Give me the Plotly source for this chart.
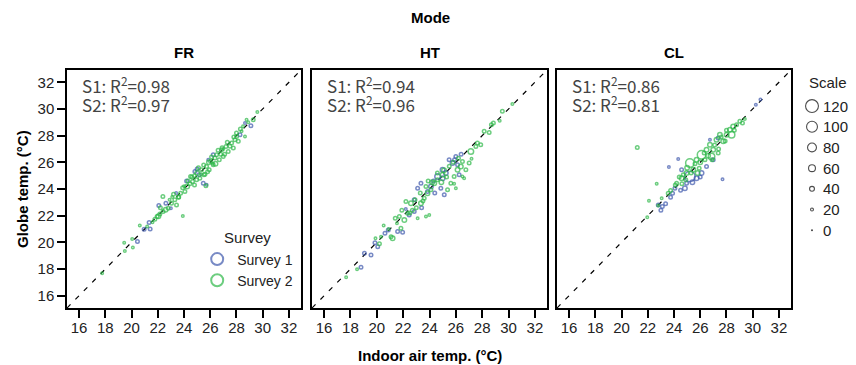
import plotly.graph_objects as go

# ---------------- data ----------------
PANELS = ["FR", "HT", "CL"]
R2_S1 = [0.98, 0.94, 0.86]
R2_S2 = [0.97, 0.96, 0.81]
TICKS = [16, 18, 20, 22, 24, 26, 28, 30, 32]
AXIS_RANGE = [15.08, 32.92]
REF_LINE = [15.08, 32.92]
SCALE_LEVELS = [120, 100, 80, 60, 40, 20, 0]
SURVEYS = ["Survey 1", "Survey 2"]

FR_S1_X = [20.45, 20.96, 21.34, 21.42, 22.08, 22.62, 23.0, 24.83, 25.16, 25.47, 25.85, 25.72, 26.23, 28.27, 29.10, 28.65, 24.2, 25.0, 23.4]
FR_S1_Y = [20.06, 20.98, 21.48, 21.01, 22.76, 22.94, 22.56, 25.31, 25.06, 24.44, 26.19, 24.31, 26.57, 28.07, 28.74, 28.94, 24.6, 25.5, 23.7]
FR_S1_SCALE = [30, 30, 30, 30, 30, 30, 20, 30, 30, 30, 20, 20, 30, 30, 30, 20, 30, 30, 20]

FR_S2_X = [17.76, 19.49, 19.44, 20.10, 20.05, 20.63, 21.19, 21.78, 21.95, 22.16, 22.41, 22.05, 22.39, 22.60, 22.79,
           23.05, 23.30, 23.43, 23.58, 23.91, 23.74, 24.07, 24.24, 24.45, 24.65, 24.50, 24.96, 25.01, 25.21, 25.34,
           25.52, 25.67, 25.72, 25.92, 26.03, 26.23, 26.36, 26.48, 26.69, 26.87, 26.99, 27.20, 27.37, 27.63, 27.76,
           27.88, 28.01, 28.14, 28.39, 28.65, 28.77, 29.28, 29.59,
           24.3, 24.8, 25.1, 25.5, 25.9, 26.1, 26.6, 26.9, 27.3, 27.5, 28.0, 28.3, 26.4, 25.8, 27.1, 24.8, 23.9, 23.2,
           21.6, 22.9, 23.6, 24.0, 24.6, 25.3, 25.6, 26.2, 26.8, 27.0, 27.8, 28.5, 28.9, 22.2, 23.1]
FR_S2_Y = [17.68, 19.35, 19.98, 19.61, 20.26, 21.26, 21.18, 21.73, 21.93, 22.13, 22.31, 21.95, 23.44, 22.45, 22.56,
           22.94, 23.19, 22.81, 23.39, 21.98, 23.69, 23.81, 24.19, 24.39, 24.56, 24.94, 24.69, 25.19, 24.81, 25.44,
           25.06, 24.24, 25.69, 25.44, 26.06, 25.81, 26.32, 26.57, 26.19, 26.94, 26.44, 27.19, 26.82, 27.44, 27.07,
           27.69, 27.94, 27.57, 28.32, 27.94, 29.19, 29.19, 29.77,
           24.6, 25.0, 25.6, 25.8, 26.0, 26.4, 26.9, 27.1, 27.5, 27.2, 28.2, 28.5, 25.9, 25.3, 26.6, 24.3, 24.1, 23.6,
           21.5, 23.2, 23.4, 24.2, 24.9, 25.1, 25.1, 25.9, 26.6, 27.0, 27.9, 28.7, 29.0, 22.6, 23.4]
FR_S2_SCALE = [20, 20, 20, 20, 20, 20, 20, 30, 30, 30, 30, 40, 30, 40, 30,
               30, 30, 30, 30, 20, 30, 30, 40, 30, 30, 30, 30, 40, 30, 30,
               30, 30, 30, 30, 30, 30, 30, 30, 30, 30, 30, 30, 30, 30, 30,
               30, 30, 30, 20, 20, 20, 30, 20,
               30, 30, 30, 30, 40, 30, 30, 30, 30, 30, 30, 30, 40, 30, 30, 30, 30, 30,
               20, 20, 30, 20, 30, 20, 30, 20, 30, 20, 30, 20, 20, 30, 20]

HT_S1_X = [18.80, 19.06, 19.56, 19.86, 20.07, 20.62, 20.87, 21.58, 21.96, 22.46, 22.84, 22.84, 23.10, 23.35, 24.11,
           24.61, 24.99, 25.24, 25.12, 25.49, 25.75, 26.00, 26.13, 26.25, 24.86, 23.85, 23.4, 24.4,
           24.3, 25.0, 25.9, 26.4, 22.2]
HT_S1_Y = [18.13, 19.18, 19.05, 19.98, 19.68, 20.68, 20.93, 20.81, 20.76, 22.06, 23.19, 22.31, 24.06, 24.44, 24.19,
           24.94, 25.44, 25.19, 23.56, 26.19, 25.94, 26.44, 25.81, 25.06, 24.06, 23.81, 22.6, 23.7,
           24.6, 24.8, 26.2, 26.6, 22.5]
HT_S1_SCALE = [30, 30, 30, 30, 30, 30, 30, 30, 30, 30, 30, 30, 30, 30, 40,
               50, 40, 40, 30, 30, 40, 30, 30, 30, 30, 30, 30, 30,
               30, 40, 30, 30, 20]

HT_S2_X = [17.67, 18.50, 20.32, 20.52, 21.08, 21.20, 21.53, 21.83, 21.71, 22.09, 22.34, 22.59, 22.21, 23.10, 23.35,
           23.73, 23.98, 23.60, 23.85, 24.11, 23.73, 24.36, 24.61, 24.99, 25.37, 25.62, 25.87, 26.00, 25.87, 26.13,
           26.38, 26.50, 26.63, 26.50, 26.76, 27.01, 27.14, 27.52, 27.89, 27.19, 27.64, 28.15, 28.53, 28.70, 28.85,
           29.33, 29.53, 30.29,
           22.9, 23.3, 24.6, 25.1, 25.5, 25.8, 24.2, 23.0, 22.5, 21.4, 20.9, 20.2, 19.9,
           22.7, 23.9, 24.9, 25.3, 26.2, 23.5, 21.9]
HT_S2_Y = [17.38, 17.98, 20.43, 21.26, 20.43, 20.31, 21.43, 21.06, 21.93, 21.68, 22.18, 22.94, 23.06, 21.81, 22.94,
           21.93, 22.06, 23.31, 23.69, 23.94, 24.19, 24.44, 24.69, 25.06, 23.94, 24.44, 24.94, 24.06, 24.39, 25.44,
           25.69, 24.94, 24.81, 26.06, 25.44, 25.94, 26.82, 27.19, 27.32, 26.27, 27.44, 28.32, 28.24, 28.82, 28.94,
           29.12, 29.82, 30.37,
           23.2, 23.7, 25.2, 25.4, 25.7, 26.0, 24.5, 22.6, 22.2, 21.8, 21.0, 19.9, 20.3,
           22.4, 24.6, 24.5, 24.9, 26.3, 23.1, 22.4]
HT_S2_SCALE = [20, 20, 20, 20, 30, 40, 20, 30, 30, 40, 30, 40, 30, 20, 40,
               20, 20, 30, 40, 30, 30, 40, 30, 40, 30, 30, 30, 20, 20, 40,
               40, 20, 20, 30, 30, 30, 50, 30, 30, 20, 30, 30, 30, 30, 30,
               20, 30, 20,
               30, 30, 30, 40, 30, 30, 40, 30, 30, 30, 20, 30, 20,
               30, 30, 40, 30, 30, 30, 30]

CL_S1_X = [23.61, 24.32, 27.70, 22.80, 23.11, 23.36, 23.74, 23.89, 24.07, 24.83, 24.96, 25.21, 25.72, 26.10, 26.48,
           26.74, 27.37, 26.99, 30.24, 30.59, 24.58, 24.5, 25.4, 26.0, 23.0]
CL_S1_Y = [25.64, 26.24, 24.74, 22.81, 22.69, 22.89, 23.39, 23.69, 24.06, 24.06, 24.44, 24.94, 24.81, 25.19, 25.69,
           27.69, 27.82, 26.19, 30.32, 30.70, 25.44, 23.9, 24.5, 24.9, 22.4]
CL_S1_SCALE = [20, 20, 20, 30, 30, 30, 30, 30, 30, 40, 30, 100, 40, 40, 30,
               20, 30, 30, 20, 20, 30, 30, 40, 30, 30]

CL_S2_X = [21.20, 22.68, 22.09, 21.96, 23.06, 22.80, 23.56, 23.74, 24.20, 24.58, 24.71, 24.96, 25.21, 25.47, 25.72,
           25.92, 26.10, 26.36, 26.48, 26.74, 26.86, 26.99, 27.24, 27.37, 27.50, 27.75, 28.01, 28.26, 28.39, 28.51,
           28.77, 29.02, 29.22, 29.40,
           24.4, 25.0, 25.6, 26.0, 26.3, 26.6, 27.1, 27.6, 28.0, 25.3, 24.6, 27.9,
           24.1, 24.9, 25.8, 26.9, 27.4, 28.6]
CL_S2_Y = [27.12, 24.39, 23.11, 21.88, 23.31, 22.76, 23.69, 23.89, 24.44, 24.81, 25.06, 25.19, 25.94, 25.44, 26.19,
           25.56, 26.57, 26.19, 26.94, 27.32, 26.44, 26.94, 27.69, 26.69, 28.07, 27.57, 28.07, 28.44, 28.07, 28.69,
           28.82, 29.07, 28.94, 29.24,
           24.9, 25.6, 25.9, 26.0, 26.7, 26.5, 27.3, 27.9, 28.4, 25.2, 24.4, 27.6,
           24.3, 24.7, 25.2, 26.2, 27.0, 28.4]
CL_S2_SCALE = [30, 20, 20, 20, 20, 20, 30, 30, 30, 40, 30, 40, 80, 40, 40,
               30, 80, 30, 40, 40, 60, 40, 40, 30, 40, 40, 40, 40, 60, 40,
               30, 30, 30, 20,
               30, 40, 30, 40, 30, 40, 30, 30, 30, 30, 30, 30,
               30, 30, 40, 30, 30, 30]

DATA = {
    "FR": [(FR_S1_X, FR_S1_Y, FR_S1_SCALE), (FR_S2_X, FR_S2_Y, FR_S2_SCALE)],
    "HT": [(HT_S1_X, HT_S1_Y, HT_S1_SCALE), (HT_S2_X, HT_S2_Y, HT_S2_SCALE)],
    "CL": [(CL_S1_X, CL_S1_Y, CL_S1_SCALE), (CL_S2_X, CL_S2_Y, CL_S2_SCALE)],
}

# ---------------- style ----------------
COLORS = ["#3E58AC", "#2EB848"]
NARROW = "Liberation Sans Narrow, Arial Narrow, Liberation Sans, Arial, sans-serif"
REG = "Liberation Sans, Arial, sans-serif"
R2FONT = "Noto Sans CJK JP, Noto Sans, sans-serif"
W = 789.0  # plot-area width in px (margin l=67, r=0)
DOMAINS = [[0.0, 234 / W], [245 / W, 480 / W], [490 / W, 724 / W]]
KEY_DOMAIN = [733 / W, 1.0]
MARKER_LW = 1.5


def msize(s, lw):
    # outer ring diameter grows 2px per 20 scale units
    return max(2 + s / 10.0 - lw, 1.0)


fig = go.Figure()

for i, panel in enumerate(PANELS):
    ax = "" if i == 0 else str(i + 1)
    fig.add_trace(go.Scatter(
        x=REF_LINE, y=REF_LINE, mode="lines", xaxis="x" + ax, yaxis="y" + ax,
        line=dict(color="black", width=1.2, dash="5px,7px"), showlegend=False, hoverinfo="skip"))
    for k, (xs, ys, ss) in enumerate(DATA[panel]):
        fig.add_trace(go.Scatter(
            x=xs, y=ys, mode="markers", xaxis="x" + ax, yaxis="y" + ax,
            name=SURVEYS[k], showlegend=(i == 0),
            marker=dict(symbol="circle-open", color=COLORS[k], size=[msize(s, MARKER_LW) for s in ss],
                        line=dict(width=MARKER_LW, color=COLORS[k]))))

# size key ("Scale") drawn on a hidden axis in the right margin
key_idx = list(range(len(SCALE_LEVELS)))
fig.add_trace(go.Scatter(
    x=[12] * len(SCALE_LEVELS), y=key_idx, mode="markers", xaxis="x4", yaxis="y4", showlegend=False,
    hoverinfo="skip",
    marker=dict(symbol="circle-open", color="black", size=[msize(v, 1.1) for v in SCALE_LEVELS],
                line=dict(width=1.1, color="black"))))

axis_common = dict(range=AXIS_RANGE, showline=True, linecolor="black", linewidth=1.5, mirror=True,
                   showgrid=False, zeroline=False)
layout = dict(
    template="none",
    width=856, height=365,
    margin=dict(l=67, r=0, t=70, b=57, autoexpand=False),
    paper_bgcolor="white", plot_bgcolor="white",
    font=dict(family=REG, color="#222222", size=14),
    showlegend=True,
    legend=dict(title=dict(text="Survey", side="top center", font=dict(size=15, family=REG)),
                x=0.165, y=0.353, xanchor="left", yanchor="top", bgcolor="rgba(0,0,0,0)",
                font=dict(size=14, family=REG), itemsizing="constant", tracegroupgap=0),
    xaxis4=dict(domain=KEY_DOMAIN, range=[0, 56], visible=False, anchor="y4"),
    yaxis4=dict(domain=[0, 1], range=[9.759, -1.742], visible=False, anchor="x4"),
)
for i in range(3):
    ax = "" if i == 0 else str(i + 1)
    layout["xaxis" + ax] = dict(axis_common, domain=DOMAINS[i], anchor="y" + ax,
                                tickvals=TICKS, ticks="outside", ticklen=8, tickwidth=1.5, tickcolor="black",
                                ticklabelstandoff=-3,
                                tickfont=dict(family=NARROW, size=15, color="#222222"))
    ydict = dict(axis_common, domain=[0, 1], anchor="x" + ax)
    if i == 0:
        ydict.update(tickvals=TICKS, ticks="outside", ticklen=8, tickwidth=1.5, tickcolor="black",
                     tickfont=dict(family=NARROW, size=15, color="#222222"))
    else:
        ydict.update(ticks="", showticklabels=False)
    layout["yaxis" + ax] = ydict
fig.update_layout(**layout)

ann = []
ann.append(dict(text="<b>Mode</b>", x=(430 - 67) / W, y=1.2185, xref="paper", yref="paper", showarrow=False,
                xanchor="center", yanchor="middle", font=dict(family=NARROW, size=15, color="black")))
for i, panel in enumerate(PANELS):
    ax = "" if i == 0 else str(i + 1)
    cx = (DOMAINS[i][0] + DOMAINS[i][1]) / 2
    ann.append(dict(text="<b>%s</b>" % panel, x=cx, y=1.0756, xref="paper", yref="paper", showarrow=False,
                    xanchor="center", yanchor="middle", font=dict(family=NARROW, size=15, color="black")))
    ann.append(dict(text="S1: R<sup>2</sup>=%.2f" % R2_S1[i], x=0.055, y=0.937, xref="x%s domain" % ax,
                    yref="y%s domain" % ax, xanchor="left", yanchor="middle", showarrow=False,
                    font=dict(family=R2FONT, size=17, color="#444444")))
    ann.append(dict(text="S2: R<sup>2</sup>=%.2f" % R2_S2[i], x=0.055, y=0.857, xref="x%s domain" % ax,
                    yref="y%s domain" % ax, xanchor="left", yanchor="middle", showarrow=False,
                    font=dict(family=R2FONT, size=17, color="#444444")))
ann.append(dict(text="<b>Indoor air temp. (°C)</b>", x=(430 - 67) / W, y=-0.1975, xref="paper", yref="paper",
                xanchor="center", yanchor="middle",
                showarrow=False, font=dict(family=NARROW, size=15, color="black")))
ann.append(dict(text="<b>Globe temp. (°C)</b>", x=(22 - 67) / W, y=0.5, xref="paper", yref="paper",
                xanchor="center", yanchor="middle",
                textangle=-90, showarrow=False, font=dict(family=NARROW, size=15, color="black")))
# size key labels
ann.append(dict(text="Scale", x=7, y=-1.16, xref="x4", yref="y4", xanchor="left", yanchor="middle",
                showarrow=False, font=dict(family=REG, size=15, color="#222222")))
for j, lvl in enumerate(SCALE_LEVELS):
    ann.append(dict(text=str(lvl), x=21, y=key_idx[j], xref="x4", yref="y4", xanchor="left", yanchor="middle",
                    showarrow=False, font=dict(family=REG, size=15, color="#222222")))
fig.update_layout(annotations=ann)

fig.write_html("out.html", config={"displayModeBar": False},
               post_script="document.body.style.margin='0px';document.body.style.overflow='hidden';")
